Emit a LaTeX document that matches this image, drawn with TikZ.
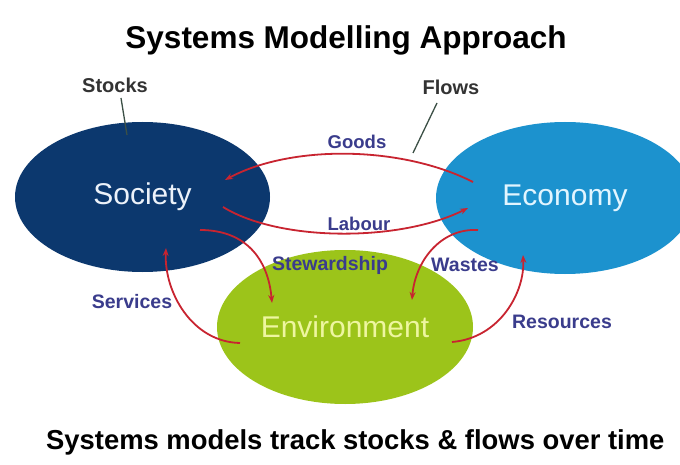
\documentclass[tikz,border=0pt]{standalone}
\usepackage{fontspec}
\setmainfont{Liberation Sans}
\usetikzlibrary{shapes.geometric,arrows.meta}
\definecolor{navy}{RGB}{12,56,110}
\definecolor{econblue}{RGB}{28,146,206}
\definecolor{envgreen}{RGB}{156,196,26}
\definecolor{envtext}{RGB}{238,246,160}
\definecolor{flowred}{RGB}{200,36,48}
\definecolor{lblblue}{RGB}{58,60,140}
\definecolor{pointer}{RGB}{60,80,70}
\tikzset{
  blob/.style={ellipse, inner sep=0pt, font=\fontsize{30}{34}\selectfont},
  flow/.style={draw=flowred, line width=1.8pt, -{Stealth[length=8pt,width=6pt]}},
  flowlbl/.style={text=lblblue, font=\bfseries\fontsize{19.5}{22}\selectfont, inner sep=0pt},
  note/.style={text=black!80, font=\bfseries\fontsize{20}{24}\selectfont, inner sep=0pt},
  pointerline/.style={draw=pointer, line width=1.3pt}
}
\begin{document}
\begin{tikzpicture}[x=1pt,y=-1pt]
\useasboundingbox (0,0) rectangle (680,465);
\clip (0,0) rectangle (680,465);
\fill[white] (0,0) rectangle (680,465);

% title
\node[font=\bfseries\fontsize{31.5}{36}\selectfont, inner sep=0pt] (title) at (346,40) {Systems Modelling Approach};

% stocks
\node[blob, fill=navy, text={rgb,255:red,236;green,242;blue,250}, minimum width=255pt, minimum height=150pt] (soc) at (142.5,197) {Society};
\node[blob, fill=econblue, text={rgb,255:red,225;green,245;blue,255}, minimum width=258pt, minimum height=152pt] (eco) at (565,198) {Economy};
\node[blob, fill=envgreen, text=envtext, minimum width=256pt, minimum height=154pt] (env) at (345,327) {Environment};

% annotations
\node[note] (stocks) at (115,85) {Stocks};
\coordinate (stocksend) at (127,135);
\draw[pointerline] (121,98) -- (stocksend);
\node[note] (flows) at (451,87) {Flows};
\coordinate (flowsend) at (413,153);
\draw[pointerline] (437,103) -- (flowsend);

% endpoints
\coordinate (gA) at (473,182); \coordinate (gB) at (225,180);
\coordinate (lA) at (223,207); \coordinate (lB) at (468,208);
\coordinate (sA) at (200,230); \coordinate (sB) at (272,303);
\coordinate (wA) at (478,230); \coordinate (wB) at (412,300);
\coordinate (vA) at (240,343); \coordinate (vB) at (166,248);
\coordinate (rA) at (452,342); \coordinate (rB) at (523,255);

% flows
\draw[flow] (gA) .. controls (400,145) and (290,145) .. (gB);
\draw[flow] (lA) .. controls (280,242) and (400,242) .. (lB);
\draw[flow] (sA) .. controls (245,230) and (268,258) .. (sB);
\draw[flow] (wA) .. controls (440,228) and (415,262) .. (wB);
\draw[flow] (vA) .. controls (192,342) and (164,292) .. (vB);
\draw[flow] (rA) .. controls (500,338) and (525,292) .. (rB);

% flow labels
\node[flowlbl, font=\bfseries\fontsize{18.5}{22}\selectfont] (goods) at (357,142) {Goods};
\node[flowlbl, font=\bfseries\fontsize{18.5}{22}\selectfont] (labour) at (359,224) {Labour};
\node[flowlbl] (stew) at (330,265) {Stewardship};
\node[flowlbl] (wastes) at (465,265) {Wastes};
\node[flowlbl] (services) at (132,302) {Services};
\node[flowlbl] (resources) at (562,322) {Resources};

% caption
\node[anchor=west, font=\bfseries\fontsize{27.4}{32}\selectfont, inner sep=0pt] (caption) at (46,442) {Systems models track stocks \& flows over time};
\end{tikzpicture}
\end{document}
